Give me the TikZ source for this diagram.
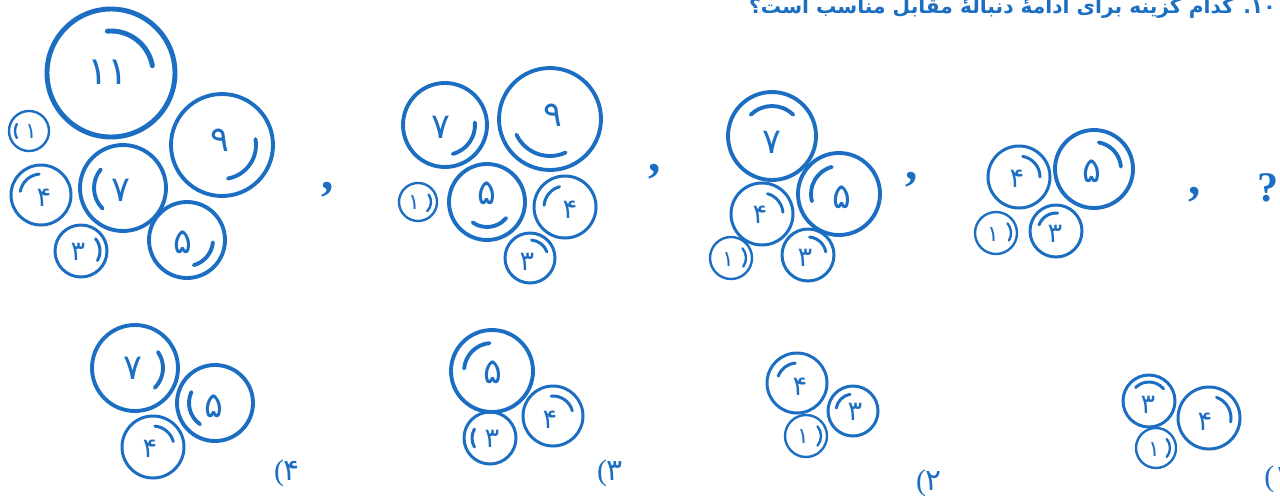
\documentclass[tikz,border=0pt]{standalone}
\usepackage{fontspec}
\usepackage{tikz}
\TeXXeTstate=1
\newfontfamily\arabicfont[Script=Arabic]{DejaVu Sans}
\newfontfamily\marksfont{Liberation Serif}

\begin{document}
\begin{tikzpicture}[x=0.02cm, y=0.02cm,
    ringXL/.style={draw=gearblue, line width=2.8pt, line cap=round},
    ringL/.style={draw=gearblue, line width=2.2pt, line cap=round},
    ringM/.style={draw=gearblue, line width=1.7pt, line cap=round},
    ringS/.style={draw=gearblue, line width=1.35pt, line cap=round},
  ]
  % Colour of the print
  \definecolor{gearblue}{HTML}{1C6EC2}

  \tikzstyle{numXL} = [text=gearblue, inner sep=0pt, font=\arabicfont\fontsize{22}{22}\selectfont]
  \tikzstyle{numL} = [text=gearblue, inner sep=0pt, font=\arabicfont\fontsize{20}{20}\selectfont]
  \tikzstyle{numM} = [text=gearblue, inner sep=0pt, font=\arabicfont\fontsize{15.5}{16}\selectfont]
  \tikzstyle{numS} = [text=gearblue, inner sep=0pt, font=\arabicfont\fontsize{12.5}{13}\selectfont]
  \tikzstyle{sep} = [text=gearblue, inner sep=0pt, font=\marksfont\bfseries\fontsize{28}{28}\selectfont]
  \tikzstyle{choice} = [text=gearblue, inner sep=0pt, font=\fontsize{17}{17}\selectfont]

  % Page frame
  \fill[white] (0,0) rectangle (1280,495);
  \useasboundingbox (0,0) rectangle (1280,495);

  % Question line (cut at the top edge)
  \node[text=gearblue, anchor=base east, inner sep=0pt,
    font=\arabicfont\bfseries\fontsize{11.5}{14}\selectfont] (title) at (1276,482)
    {\beginR\beginL ۱۰\endL. کدام گزینه برای ادامهٔ دنبالهٔ مقابل مناسب است؟\endR};

  % Term 1
  \draw[ringXL] (111,422) circle[radius=64];
  \draw[ringXL] (111,422) ++(10:42) arc[start angle=10, end angle=95, radius=42];
  \node[numXL] (t1n11) at (108,423) {۱۱};
  \draw[ringS] (29,364) circle[radius=20];
  \draw[ringS] (29,364) ++(150:14) arc[start angle=150, end angle=210, radius=14];
  \node[numS] (t1n1) at (31,363) {۱};
  \draw[ringM] (41,300) circle[radius=30];
  \draw[ringM] (41,300) ++(95:21) arc[start angle=95, end angle=170, radius=21];
  \node[numM] (t1n4) at (44,297) {۴};
  \draw[ringL] (123,307) circle[radius=43];
  \draw[ringL] (123,307) ++(140:29) arc[start angle=140, end angle=225, radius=29];
  \node[numL] (t1n7) at (121,305) {۷};
  \draw[ringL] (222,350) circle[radius=51];
  \draw[ringL] (222,350) ++(-80:34) arc[start angle=-80, end angle=10, radius=34];
  \node[numL] (t1n9) at (220,355) {۹};
  \draw[ringL] (187,255) circle[radius=38];
  \draw[ringL] (187,255) ++(-75:26) arc[start angle=-75, end angle=-5, radius=26];
  \node[numL] (t1n5) at (183,253) {۵};
  \draw[ringM] (81,244) circle[radius=26];
  \draw[ringM] (81,244) ++(-30:19) arc[start angle=-30, end angle=40, radius=19];
  \node[numM] (t1n3) at (78,243) {۳};
  \node[sep] (sep1) at (328,305) {,};

  % Term 2
  \draw[ringL] (445,370) circle[radius=42];
  \draw[ringL] (445,370) ++(-75:30) arc[start angle=-75, end angle=5, radius=30];
  \node[numL] (t2n7) at (441,368) {۷};
  \draw[ringL] (550,376) circle[radius=51];
  \draw[ringL] (550,376) ++(-155:37) arc[start angle=-155, end angle=-65, radius=37];
  \node[numL] (t2n9) at (553,380) {۹};
  \draw[ringL] (487,293) circle[radius=38];
  \draw[ringL] (487,293) ++(-125:25) arc[start angle=-125, end angle=-40, radius=25];
  \node[numL] (t2n5) at (487,302) {۵};
  \draw[ringM] (565,288) circle[radius=31];
  \draw[ringM] (565,288) ++(105:21) arc[start angle=105, end angle=175, radius=21];
  \node[numM] (t2n4) at (570,285) {۴};
  \draw[ringM] (530,237) circle[radius=25];
  \draw[ringM] (530,237) ++(20:18) arc[start angle=20, end angle=85, radius=18];
  \node[numM] (t2n3) at (527,233) {۳};
  \draw[ringS] (418,293) circle[radius=19];
  \draw[ringS] (418,293) ++(-45:13) arc[start angle=-45, end angle=35, radius=13];
  \node[numS] (t2n1) at (414,292) {۱};
  \node[sep] (sep2) at (655,323) {,};

  % Term 3
  \draw[ringL] (772,359) circle[radius=44];
  \draw[ringL] (772,359) ++(45:30) arc[start angle=45, end angle=135, radius=30];
  \node[numL] (t3n7) at (772,353) {۷};
  \draw[ringL] (839,301) circle[radius=41];
  \draw[ringL] (839,301) ++(105:28) arc[start angle=105, end angle=195, radius=28];
  \node[numL] (t3n5) at (842,298) {۵};
  \draw[ringM] (762,281) circle[radius=31];
  \draw[ringM] (762,281) ++(5:21) arc[start angle=5, end angle=75, radius=21];
  \node[numM] (t3n4) at (760,280) {۴};
  \draw[ringS] (731,237) circle[radius=21];
  \draw[ringS] (731,237) ++(-35:15) arc[start angle=-35, end angle=40, radius=15];
  \node[numS] (t3n1) at (728,235) {۱};
  \draw[ringM] (808,240) circle[radius=26];
  \draw[ringM] (808,240) ++(10:18) arc[start angle=10, end angle=85, radius=18];
  \node[numM] (t3n3) at (805,237) {۳};
  \node[sep] (sep3) at (912,315) {,};

  % Term 4
  \draw[ringM] (1019,318) circle[radius=31];
  \draw[ringM] (1019,318) ++(0:21) arc[start angle=0, end angle=80, radius=21];
  \node[numM] (t4n4) at (1017,316) {۴};
  \draw[ringL] (1094,326) circle[radius=39];
  \draw[ringL] (1094,326) ++(5:27) arc[start angle=5, end angle=80, radius=27];
  \node[numL] (t4n5) at (1092,324) {۵};
  \draw[ringS] (996,262) circle[radius=21];
  \draw[ringS] (996,262) ++(-30:15) arc[start angle=-30, end angle=40, radius=15];
  \node[numS] (t4n1) at (993,260) {۱};
  \draw[ringM] (1056,264) circle[radius=26];
  \draw[ringM] (1056,264) ++(85:18) arc[start angle=85, end angle=160, radius=18];
  \node[numM] (t4n3) at (1055,261) {۳};
  \node[sep] (sep4) at (1195,300) {,};
  \node[sep, font=\marksfont\bfseries\fontsize{24}{24}\selectfont] (ask) at (1268,307) {?};

  % Choice 4
  \draw[ringL] (135,127) circle[radius=43];
  \draw[ringL] (135,127) ++(-45:28) arc[start angle=-45, end angle=35, radius=28];
  \node[numL] (c4n7) at (133,127) {۷};
  \draw[ringL] (215,92) circle[radius=38];
  \draw[ringL] (215,92) ++(155:26) arc[start angle=155, end angle=235, radius=26];
  \node[numL] (c4n5) at (214,89) {۵};
  \draw[ringM] (153,48) circle[radius=31];
  \draw[ringM] (153,48) ++(15:21) arc[start angle=15, end angle=85, radius=21];
  \node[numM] (c4n4) at (150,46) {۴};
  \node[choice] (opt4) at (287,22) {{\marksfont(}{\arabicfont ۴}};

  % Choice 3
  \draw[ringL] (492,124) circle[radius=41];
  \draw[ringL] (492,124) ++(95:28) arc[start angle=95, end angle=175, radius=28];
  \node[numL] (c3n5) at (493,123) {۵};
  \draw[ringM] (553,79) circle[radius=30];
  \draw[ringM] (553,79) ++(15:20) arc[start angle=15, end angle=95, radius=20];
  \node[numM] (c3n4) at (550,75) {۴};
  \draw[ringM] (490,57) circle[radius=26];
  \draw[ringM] (490,57) ++(150:18) arc[start angle=150, end angle=210, radius=18];
  \node[numM] (c3n3) at (492,56) {۳};
  \node[choice] (opt3) at (610,22) {{\marksfont(}{\arabicfont ۳}};

  % Choice 2
  \draw[ringM] (797,112) circle[radius=30];
  \draw[ringM] (797,112) ++(95:20) arc[start angle=95, end angle=160, radius=20];
  \node[numM] (c2n4) at (800,108) {۴};
  \draw[ringM] (853,84) circle[radius=25];
  \draw[ringM] (853,84) ++(100:17) arc[start angle=100, end angle=170, radius=17];
  \node[numM] (c2n3) at (855,83) {۳};
  \draw[ringS] (806,59) circle[radius=21];
  \draw[ringS] (806,59) ++(-40:15) arc[start angle=-40, end angle=40, radius=15];
  \node[numS] (c2n1) at (803,58) {۱};
  \node[choice] (opt2) at (929,12) {{\marksfont(}{\arabicfont ۲}};

  % Choice 1 (cut at the right edge)
  \draw[ringM] (1149,94) circle[radius=26];
  \draw[ringM] (1149,94) ++(40:19) arc[start angle=40, end angle=135, radius=19];
  \node[numM] (c1n3) at (1148,90) {۳};
  \draw[ringM] (1209,77) circle[radius=31];
  \draw[ringM] (1209,77) ++(-10:22) arc[start angle=-10, end angle=70, radius=22];
  \node[numM] (c1n4) at (1205,73) {۴};
  \draw[ringS] (1156,47) circle[radius=20];
  \draw[ringS] (1156,47) ++(-40:14) arc[start angle=-40, end angle=40, radius=14];
  \node[numS] (c1n1) at (1154,45) {۱};
  \node[choice, anchor=west] (opt1) at (1264,16) {{\marksfont(}{\arabicfont ۱}};
\end{tikzpicture}
\end{document}
